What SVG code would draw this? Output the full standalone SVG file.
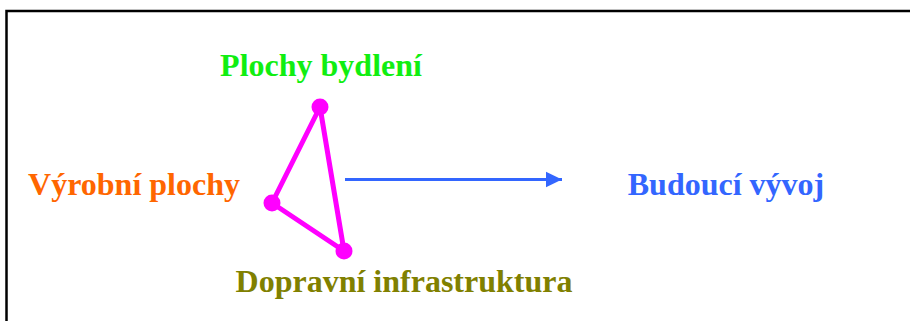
<svg xmlns="http://www.w3.org/2000/svg" width="910" height="321" viewBox="0 0 910 321">
<style>
.t{font-family:"Liberation Serif","Times New Roman",serif;font-weight:bold;font-size:32px}
.edge{stroke:#FF00FF;stroke-width:5;fill:none;stroke-linecap:round}
.dot{fill:#FF00FF}
</style>
<defs>
<marker id="ah" markerWidth="6" markerHeight="5.4" refX="5.5" refY="2.7" orient="auto" markerUnits="strokeWidth">
<path d="M0,0 L5.5,2.7 L0,5.4 Z" fill="#3366FF"/>
</marker>
</defs>
<rect width="910" height="321" fill="#ffffff"/>
<path d="M6.5 321 V11 H910" fill="none" stroke="#000" stroke-width="2.5"/>
<g id="connectors">
<path class="edge" d="M320 107 L272 203 L344 251 Z" stroke-linejoin="round"/>
<line x1="345" y1="179.5" x2="562" y2="179.5" stroke="#3366FF" stroke-width="3" marker-end="url(#ah)"/>
</g>
<g id="plochy-bydleni">
<circle class="dot" cx="320" cy="107" r="8.5"/>
<text class="t" x="321" y="76" fill="#11EE11" text-anchor="middle">Plochy bydlení</text>
</g>
<g id="vyrobni-plochy">
<circle class="dot" cx="272" cy="203" r="8.5"/>
<text class="t" x="134" y="195" fill="#FF6600" text-anchor="middle">Výrobní plochy</text>
</g>
<g id="dopravni-infrastruktura">
<circle class="dot" cx="344" cy="251" r="8.5"/>
<text class="t" x="404" y="292" fill="#808000" text-anchor="middle">Dopravní infrastruktura</text>
</g>
<g id="budouci-vyvoj">
<text class="t" x="726" y="195" fill="#3366FF" text-anchor="middle">Budoucí vývoj</text>
</g>
</svg>
